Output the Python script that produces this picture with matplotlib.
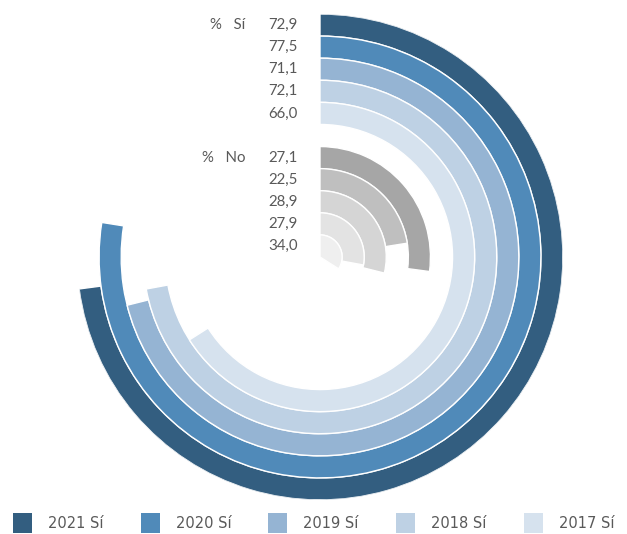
import numpy as np
import matplotlib
matplotlib.use("Agg")
import matplotlib.pyplot as plt
from matplotlib.patches import Patch
from matplotlib.transforms import offset_copy

# Data
years = ["2021", "2020", "2019", "2018", "2017"]
si_values = [72.9, 77.5, 71.1, 72.1, 66.0]
no_values = [27.1, 22.5, 28.9, 27.9, 34.0]
si_labels = ["72,9", "77,5", "71,1", "72,1", "66,0"]
no_labels = ["27,1", "22,5", "28,9", "27,9", "34,0"]

si_colors = ["#335e80", "#508ab9", "#95b4d3", "#bed1e4", "#d6e2ee"]
no_colors = ["#a6a6a6", "#bfbfbf", "#d5d5d5", "#e3e3e3", "#efefef"]

text_color = "#595959"

fig = plt.figure(figsize=(6.27, 5.34), dpi=100)
ax = fig.add_axes([77 / 627, 34 / 534, 486 / 627, 486 / 534], projection="polar")
ax.set_theta_zero_location("N")
ax.set_theta_direction(-1)

r_max = 243.0
slot = r_max / 11

# Sí rings in slots 0-4 (outer), empty slot 5, No rings in slots 6-10
for i, (val, col) in enumerate(zip(si_values, si_colors)):
    r_in = r_max - (i + 1) * slot
    theta = np.radians(val / 100 * 360)
    ax.bar(theta / 2, slot, width=theta, bottom=r_in, color=col,
           edgecolor="white", linewidth=1.0, align="center")

for i, (val, col) in enumerate(zip(no_values, no_colors)):
    r_in = r_max - (i + 7) * slot
    theta = np.radians(val / 100 * 360)
    ax.bar(theta / 2, slot, width=theta, bottom=r_in, color=col,
           edgecolor="white", linewidth=1.0, align="center")

ax.set_ylim(0, r_max)
ax.set_axis_off()

# Value labels at the left of the start line
lab_tr = offset_copy(ax.transData, fig=fig, x=-22, y=0, units="dots")
head_tr = offset_copy(ax.transData, fig=fig, x=-75, y=0, units="dots")
lab_font = dict(family=["Lato", "DejaVu Sans"], fontsize=10.8, color=text_color)

for i, lab in enumerate(si_labels):
    r_c = r_max - (i + 0.5) * slot
    ax.text(0, r_c, lab, transform=lab_tr, ha="right", va="center", **lab_font)
for i, lab in enumerate(no_labels):
    r_c = r_max - (i + 6.5) * slot
    ax.text(0, r_c, lab, transform=lab_tr, ha="right", va="center", **lab_font)

ax.text(0, r_max - 0.5 * slot, "%   Sí", transform=head_tr, ha="right", va="center", **lab_font)
ax.text(0, r_max - 6.5 * slot, "%   No", transform=head_tr, ha="right", va="center", **lab_font)

handles = [Patch(facecolor=c, edgecolor="none") for c in si_colors]
labels = [f"{y} Sí" for y in years]
fig.legend(handles, labels, loc="center", bbox_to_anchor=(0.5, 11 / 534), ncol=5,
           frameon=False, handlelength=1.3, handleheight=1.7, handletextpad=1.1,
           columnspacing=2.55, borderpad=0, prop=dict(family="DejaVu Sans", size=10.5),
           labelcolor=text_color)

fig.savefig("out.png", dpi=100)
